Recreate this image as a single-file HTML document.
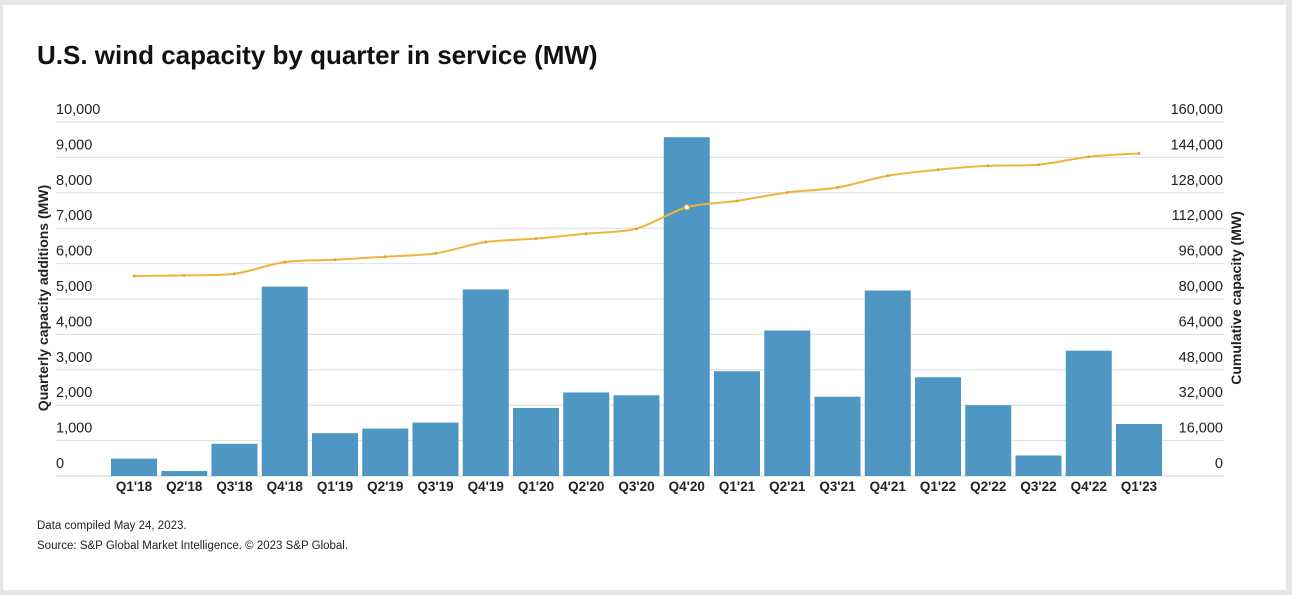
<!DOCTYPE html>
<html><head><meta charset="utf-8"><style>
body{margin:0;background:#e6e6e6;width:1292px;height:595px;overflow:hidden;font-family:"Liberation Sans",sans-serif}
#card{position:absolute;left:3px;top:5px;width:1283px;height:585px;background:#fff}
</style></head><body>
<div id="card"></div>
<svg id="chart" width="1292" height="595" style="position:absolute;left:0;top:0;font-family:'Liberation Sans',sans-serif">
<text x="37" y="64" font-size="26" font-weight="bold" fill="#111">U.S. wind capacity by quarter in service (MW)</text>
<text transform="translate(48,298) rotate(-90)" text-anchor="middle" font-size="14" font-weight="bold" fill="#222">Quarterly capacity additions (MW)</text>
<text transform="translate(1241,298) rotate(-90)" text-anchor="middle" font-size="14" font-weight="bold" fill="#222">Cumulative capacity (MW)</text>
<text x="37" y="529" font-size="11.5" fill="#222">Data compiled May 24, 2023.</text>
<text x="37" y="549" font-size="11.5" fill="#222">Source: S&amp;P Global Market Intelligence. © 2023 S&amp;P Global.</text>
<g id="grid"></g><g id="bars"></g><g id="line"></g><g id="labels"></g>
</svg>
<script>
const categories=["Q1'18","Q2'18","Q3'18","Q4'18","Q1'19","Q2'19","Q3'19","Q4'19","Q1'20","Q2'20","Q3'20","Q4'20","Q1'21","Q2'21","Q3'21","Q4'21","Q1'22","Q2'22","Q3'22","Q4'22","Q1'23"];
const quarterly=[490,140,910,5350,1210,1340,1510,5270,1920,2360,2280,9570,2960,4110,2240,5240,2790,2000,580,3540,1470];
const cumulative=[90400,90660,91400,96700,97760,99120,100630,105770,107280,109550,111810,121480,124350,128130,130400,135690,138410,140220,140680,144300,145810];
const leftTicks=["0","1,000","2,000","3,000","4,000","5,000","6,000","7,000","8,000","9,000","10,000"];
const rightTicks=["0","16,000","32,000","48,000","64,000","80,000","96,000","112,000","128,000","144,000","160,000"];
const NS="http://www.w3.org/2000/svg";
const y0=476,yTop=122,x0=111,step=50.25,bw=46;
const yL=v=>y0-(v/10000)*(y0-yTop);
const yR=v=>y0-(v/160000)*(y0-yTop);
const xC=i=>x0+i*step+bw/2;
function mk(tag,attrs,parent){const e=document.createElementNS(NS,tag);for(const k in attrs)e.setAttribute(k,attrs[k]);document.getElementById(parent).appendChild(e);return e;}
leftTicks.forEach((t,i)=>{
  const y=yL(i*1000);
  const g=mk('line',{x1:56,x2:1224,y1:y,y2:y,stroke:i==0?'#cfcfcf':'#dedede','stroke-width':1},'grid');
  
  
  const a=mk('text',{x:56,y:y-8,'font-size':14.5,fill:'#222'},'labels');a.textContent=t;
  
  
  const b=mk('text',{x:1223,y:y-8,'font-size':14.5,fill:'#222','text-anchor':'end'},'labels');b.textContent=rightTicks[i];
  
  
});
categories.forEach((c,i)=>{
  const r=mk('rect',{x:x0+i*step,y:yL(quarterly[i]),width:bw,height:y0-yL(quarterly[i]),fill:'#4e97c3'},'bars');
  
  
  const t=mk('text',{x:xC(i),y:491,'font-size':13.5,'font-weight':'bold',fill:'#222','text-anchor':'middle'},'labels');t.textContent=c;
  
  
});
const pts=cumulative.map((v,i)=>[xC(i),yR(v)]);
let d='M'+pts[0][0]+','+pts[0][1];
for(let i=0;i<pts.length-1;i++){
  const p0=pts[Math.max(0,i-1)],p1=pts[i],p2=pts[i+1],p3=pts[Math.min(pts.length-1,i+2)];
  const k=0.15;
  d+=` C${p1[0]+(p2[0]-p0[0])*k},${p1[1]+(p2[1]-p0[1])*k} ${p2[0]-(p3[0]-p1[0])*k},${p2[1]-(p3[1]-p1[1])*k} ${p2[0]},${p2[1]}`;
}
const ln=mk('path',{d:d,fill:'none',stroke:'#f0b43c','stroke-width':2},'line');


pts.forEach((p,i)=>{
  const hollow=i==11;
  const c=mk('circle',{cx:p[0],cy:p[1],r:hollow?2.6:1.4,fill:hollow?'#fff':'#e0a030',stroke:'#e0a030','stroke-width':hollow?1.2:0},'line');
  
  
});
</script>
</body></html>
